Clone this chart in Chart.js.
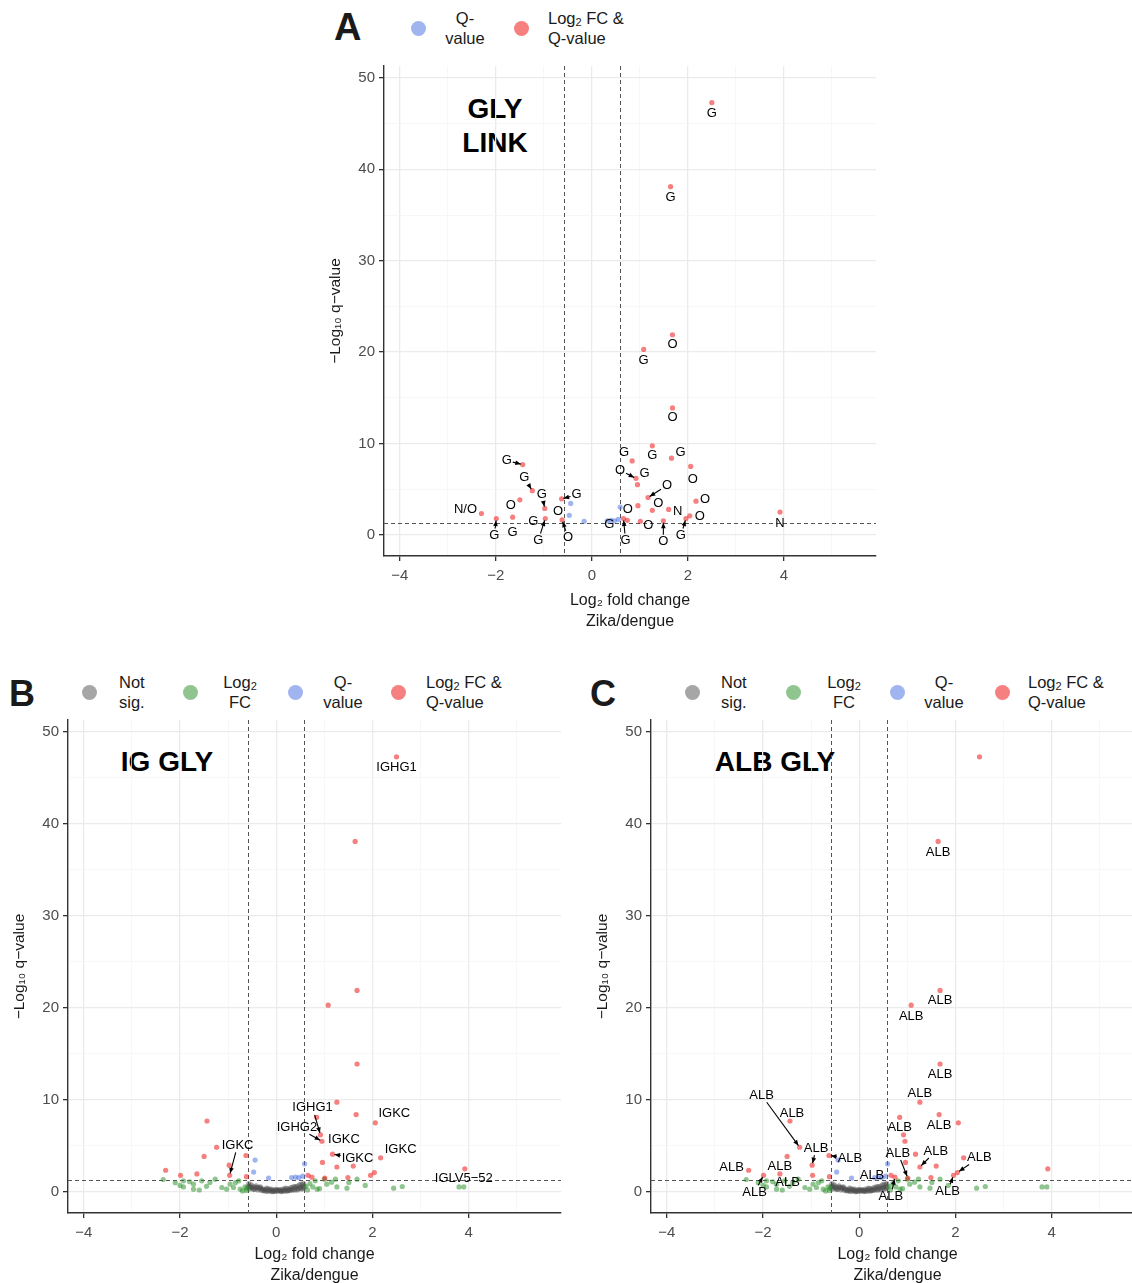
<!DOCTYPE html>
<html>
<head>
<meta charset="utf-8">
<script src="https://cdn.jsdelivr.net/npm/chart.js@4.4.1/dist/chart.umd.min.js"></script>
<style>
body { margin:0; width:1132px; height:1283px; overflow:hidden; background:#fff; position:relative;
       font-family:"Liberation Sans", Arial, sans-serif; color:#1a1a1a; }
canvas { position:absolute; }
.tag { position:absolute; font-weight:bold; line-height:1; }
.ttl { position:absolute; font-weight:bold; font-size:28px; line-height:34px; text-align:center; color:#000; }
.dot { position:absolute; width:15px; height:15px; border-radius:50%; margin:-7.5px 0 0 -7.5px; }
.lab { position:absolute; font-size:16.5px; line-height:20px; white-space:nowrap; }
.lab sub { font-size:11px; vertical-align:-2px; line-height:0; }
</style>
</head>
<body>

<div class="tag" style="left:334px;top:8px;font-size:38px">A</div>
<div class="tag" style="left:9px;top:676px;font-size:36px">B</div>
<div class="tag" style="left:590px;top:676px;font-size:36px">C</div>

<div class="ttl" style="left:420px;top:92px;width:150px">GLY<br>LINK</div>
<div class="ttl" style="left:87px;top:745px;width:160px">IG GLY</div>
<div class="ttl" style="left:685px;top:745px;width:180px">ALB GLY</div>

<canvas id="chartA" width="560" height="575" style="left:320px;top:61px"></canvas>
<canvas id="chartB" width="561" height="575" style="left:4px;top:715px"></canvas>
<canvas id="chartC" width="561" height="575" style="left:587px;top:715px"></canvas>

<div id="legends"></div>

<script>
// ---- data: log2 fold change (Zika/dengue) and -log10 q-value ----
// significant on both fold change and q-value
const redX = [2.50, 1.64, 1.68, 1.08, 1.68, 1.26, 0.84, 1.66, 2.06, 0.92, 0.95, 1.17, 0.96, 1.26, 1.60, 2.17, 2.04, 1.96,
              0.66, 0.74, 1.01, 1.49, 3.92, -1.44, -1.24, -1.50, -0.98, -0.97, -1.65, -1.99, -2.30, -0.63, -0.62];
const redY = [47.3, 38.1, 21.9, 20.3, 13.9, 9.75, 8.1, 8.4, 7.5, 6.2, 5.5, 4.1, 3.2, 2.7, 2.8, 3.7, 2.1, 1.8,
              1.8, 1.6, 1.5, 1.55, 2.5, 7.7, 4.85, 3.85, 2.9, 1.8, 1.95, 1.8, 2.35, 3.95, 1.65];
// q-value only
const blueX = [-0.44, -0.47, -0.16, 0.32, 0.40, 0.47, 0.59, 0.55];
const blueY = [3.45, 2.15, 1.5, 1.55, 1.6, 1.55, 3.05, 1.7];
// fold change only
const greenX = [-2.35, -1.93, -1.93, -1.72, -1.72, -1.55, -1.38, -1.27, -1.13, -1.03, -0.96, -0.89, -0.78, -0.75, -0.65, -0.61,
                -2.10, -0.70, 0.81, 0.76, 0.85, 1.05, 1.00, 1.23, 1.26, 1.47, 1.51, 1.68, 2.44, 2.62, 3.80, 3.90, 0.65, 0.70, 1.85,
                -1.80, -1.45, -0.85, -0.62, 0.62, 0.90, 1.15, -2.00, -1.60];
const greenY = [1.34, 1.2, 0.54, 0.83, 0.29, 1.2, 1.02, 1.38, 0.47, 0.29, 0.83, 0.47, 1.2, 0.29, 0.54, 0.4,
                1.0, 0.1, 1.2, 0.54, 0.29, 0.83, 1.38, 1.38, 0.54, 0.4, 1.02, 1.38, 0.4, 0.58, 0.54, 0.54, 0.2, 0.9, 0.7,
                1.1, 0.6, 1.0, 0.15, 0.6, 0.35, 1.05, 0.7, 0.2];
// not significant
const greyX = [-0.57, -0.55, -0.52, -0.50, -0.48, -0.45, -0.42, -0.40, -0.38, -0.35, -0.33, -0.30, -0.28, -0.25, -0.22, -0.20,
               -0.18, -0.15, -0.12, -0.10, -0.08, -0.05, -0.02, 0.00, 0.03, 0.05, 0.08, 0.10, 0.13, 0.15, 0.18, 0.20, 0.23,
               0.25, 0.28, 0.30, 0.33, 0.35, 0.38, 0.40, 0.43, 0.45, 0.48, 0.50, 0.53, 0.55, 0.57,
               -0.56, -0.53, -0.47, -0.43, -0.36, -0.31, -0.26, -0.21, -0.16, -0.11, -0.06, -0.01, 0.04, 0.09, 0.14,
               0.19, 0.24, 0.29, 0.34, 0.39, 0.44, 0.49, 0.52, 0.56, -0.58, 0.58];
const greyY = [0.9, 0.6, 0.75, 0.4, 0.55, 0.3, 0.65, 0.45, 0.2, 0.35, 0.55, 0.15, 0.3, 0.1, 0.25, 0.4,
               0.05, 0.2, 0.1, 0.3, 0.02, 0.15, 0.05, 0.2, 0.08, 0.25, 0.12, 0.03, 0.3, 0.15, 0.22, 0.08, 0.35,
               0.18, 0.28, 0.45, 0.3, 0.55, 0.2, 0.4, 0.6, 0.35, 0.75, 0.5, 0.3, 0.65, 0.9,
               0.3, 0.5, 0.25, 0.5, 0.5, 0.35, 0.2, 0.12, 0.32, 0.18, 0.08, 0.28, 0.14, 0.2, 0.06,
               0.4, 0.1, 0.15, 0.2, 0.58, 0.2, 0.4, 0.85, 0.4, 0.6, 0.55];

const fcCut = 0.585;   // log2(1.5)
const qCut = 1.3;      // -log10(0.05)
const xTicks = [-4, -2, 0, 2, 4];
const yTicks = [0, 10, 20, 30, 40, 50];

// point labels: [red point index, text, dx, dy, arrow]
const labelsA = [
  [0,'G',0,11,0],[1,'G',0,11,0],[2,'O',0,10,0],[3,'G',0,11,0],[4,'O',0,10,0],[5,'G',0,10,0],
  [6,'G',-8,-9,0],[7,'G',9,-6,0],[8,'O',2,13,0],[9,'O',-16,-8,1],[10,'G',7,-11,0],[11,'O',19,-12,1],
  [12,'O',-10,4,0],[13,'O',6,-7,0],[14,'N',9,2,0],[15,'O',9,-2,0],[16,'O',10,1,0],[17,'G',-5,17,1],
  [18,'G',2,22,1],[19,'G',-18,4,0],[20,'O',8,4,0],[21,'O',0,21,1],[22,'N',0,11,0],[23,'G',-16,-4,1],
  [24,'G',-8,-13,1],[25,'O',-9,6,0],[26,'G',-3,-14,1],[27,'G',-12,3,0],[27,'G',-7,22,1],[28,'G',0,15,0],
  [29,'G',-2,17,1],[30,'N/O',-16,-4,0],[31,'G',15,-4,1],[32,'O',6,18,1],[32,'O',-4,-8,0]
];
const labelsB = [
  [0,'IGHG1',0,11,0],[9,'IGHG1',-8,-27,1],[10,'IGHG2',-25,-14,1],[10,'IGKC',22,-2,0],[11,'IGKC',25,4,1],
  [8,'IGKC',19,-9,0],[15,'IGKC',20,-8,0],[22,'IGLV5\u221252',-1,10,0],[27,'IGKC',8,-30,1]
];
const labelsC = [
  [1,'ALB',0,11,0],[2,'ALB',0,10,0],[3,'ALB',0,11,0],[4,'ALB',0,10,0],[5,'ALB',0,-9,0],[7,'ALB',0,11,0],
  [6,'ALB',0,10,0],[20,'ALB',-10,-25,1],[13,'ALB',16,-16,1],[16,'ALB',22,-15,1],[17,'ALB',-6,16,1],
  [19,'ALB',-4,19,1],[18,'ALB',-19,0,0],[31,'ALB',21,3,1],[26,'ALB',4,-17,1],[24,'ALB',-38,-52,1],
  [23,'ALB',2,-8,0],[30,'ALB',-17,-3,0],[28,'ALB',0,-7,0],[29,'ALB',-9,17,1],[27,'ALB',-25,7,0]
];

const COL = {
  grey: 'rgba(77,77,77,0.5)', green: 'rgba(34,139,34,0.5)',
  blue: 'rgba(65,105,225,0.5)', red: 'rgba(238,0,0,0.5)'
};
const FONT = '"Liberation Sans", Arial, sans-serif';

function pts(xs, ys) { return xs.map((x, i) => ({ x: x, y: ys[i] })); }

// dashed cut-off lines
const cutoffPlugin = {
  id: 'cutoffs',
  beforeDatasetsDraw(chart) {
    const { ctx, chartArea: a, scales: { x, y } } = chart;
    ctx.save();
    ctx.strokeStyle = '#555';
    ctx.lineWidth = 1;
    ctx.setLineDash([4, 3]);
    [-fcCut, fcCut].forEach(v => {
      const px = Math.round(x.getPixelForValue(v)) + 0.5;
      ctx.beginPath(); ctx.moveTo(px, a.top); ctx.lineTo(px, a.bottom); ctx.stroke();
    });
    const py = Math.round(y.getPixelForValue(qCut)) + 0.5;
    ctx.beginPath(); ctx.moveTo(a.left, py); ctx.lineTo(a.right, py); ctx.stroke();
    ctx.restore();
  }
};

// text labels with optional arrows, like ggrepel
const labelPlugin = {
  id: 'pointLabels',
  afterDatasetsDraw(chart, args, opts) {
    const { ctx, scales: { x, y } } = chart;
    ctx.save();
    ctx.font = '13px ' + FONT;
    ctx.textAlign = 'center';
    ctx.textBaseline = 'middle';
    ctx.fillStyle = '#000';
    ctx.strokeStyle = '#000';
    ctx.lineWidth = 1.1;
    (opts.items || []).forEach(([i, t, dx, dy, arrow]) => {
      const px = x.getPixelForValue(redX[i]), py = y.getPixelForValue(redY[i]);
      const lx = px + dx, ly = py + dy;
      ctx.fillText(t, lx, ly);
      if (!arrow) return;
      const hw = ctx.measureText(t).width / 2 + 1, hh = 7;
      const vx = px - lx, vy = py - ly, len = Math.hypot(vx, vy);
      const s = Math.min(vx ? hw / Math.abs(vx) : 99, vy ? hh / Math.abs(vy) : 99);
      const x1 = lx + vx * s, y1 = ly + vy * s;
      const x2 = px - vx / len * 2, y2 = py - vy / len * 2;
      const ang = Math.atan2(y2 - y1, x2 - x1), h = 6;
      ctx.beginPath(); ctx.moveTo(x1, y1); ctx.lineTo(x2, y2); ctx.stroke();
      ctx.beginPath();
      ctx.moveTo(x2, y2);
      ctx.lineTo(x2 - h * Math.cos(ang - 0.4), y2 - h * Math.sin(ang - 0.4));
      ctx.lineTo(x2 - h * Math.cos(ang + 0.4), y2 - h * Math.sin(ang + 0.4));
      ctx.closePath(); ctx.fill();
    });
    ctx.restore();
  }
};

function gridCol(major) { return c => (c.tick && major.includes(c.tick.value)) ? '#ebebeb' : '#f4f4f4'; }
function gridW(major) { return c => (c.tick && major.includes(c.tick.value)) ? 1.3 : 0.7; }
function tickCol(major) { return c => (c.tick && major.includes(c.tick.value)) ? '#333' : 'rgba(0,0,0,0)'; }

function makeVolcano(id, showAll, items, xAxisHeight) {
  const datasets = [];
  if (showAll) {
    datasets.push({ label: 'Not sig.', data: pts(greyX, greyY), backgroundColor: COL.grey, order: 4 });
    datasets.push({ label: 'Log2 FC', data: pts(greenX, greenY), backgroundColor: COL.green, order: 3 });
  }
  datasets.push({ label: 'Q-value', data: pts(blueX, blueY), backgroundColor: COL.blue, order: 2 });
  datasets.push({ label: 'Log2 FC & Q-value', data: pts(redX, redY), backgroundColor: COL.red, order: 1 });
  datasets.forEach(d => { d.pointRadius = 2.6; d.borderWidth = 0; });

  return new Chart(document.getElementById(id), {
    type: 'scatter',
    data: { datasets: datasets },
    plugins: [cutoffPlugin, labelPlugin],
    options: {
      responsive: false,
      animation: false,
      layout: { padding: { top: 5, right: 0, left: 0, bottom: 0 } },
      plugins: { legend: { display: false }, tooltip: { enabled: false }, pointLabels: { items: items } },
      scales: {
        x: {
          type: 'linear', min: -4.33, max: 5.92,
          afterFit: s => { s.height = xAxisHeight; s.paddingLeft = 0; s.paddingRight = 0; },
          border: { display: true, color: '#333', width: 1.4 },
          grid: { color: gridCol(xTicks), lineWidth: gridW(xTicks), tickColor: tickCol(xTicks), tickLength: 5 },
          ticks: {
            stepSize: 1, includeBounds: false, autoSkip: false, maxRotation: 0, padding: 6,
            color: '#4d4d4d', font: { family: FONT, size: 15 },
            callback: v => xTicks.includes(v) ? (v < 0 ? '\u2212' + Math.abs(v) : String(v)) : ''
          },
          title: { display: true, text: ['Log\u2082 fold change', 'Zika/dengue'], color: '#1a1a1a',
                   font: { family: FONT, size: 16, lineHeight: 1.3 }, padding: { top: 7 } }
        },
        y: {
          type: 'linear', min: -2.3, max: 51.3,
          afterFit: s => { s.width = 64; s.paddingTop = 0; s.paddingBottom = 0; },
          border: { display: true, color: '#333', width: 1.4 },
          grid: { color: gridCol(yTicks), lineWidth: gridW(yTicks), tickColor: tickCol(yTicks), tickLength: 5 },
          ticks: {
            stepSize: 5, includeBounds: false, autoSkip: false, padding: 4,
            color: '#4d4d4d', font: { family: FONT, size: 15 },
            callback: v => yTicks.includes(v) ? String(v) : ''
          },
          title: { display: true, text: '\u2212Log\u2081\u2080 q\u2212value', color: '#1a1a1a',
                   font: { family: FONT, size: 15.5 }, padding: { top: 6, bottom: 0 } }
        }
      }
    }
  });
}

makeVolcano('chartA', false, labelsA, 80);
makeVolcano('chartB', true, labelsB, 77);
makeVolcano('chartC', true, labelsC, 77);

// ---- legends ----
const legendItems = [
  // [dot x, dot y, colour, label html, text left, align, width]
  [418, 28, COL.blue, 'Q-<br>value', 443, 'center', 44],
  [521, 28, COL.red, 'Log<sub>2</sub> FC &amp;<br>Q-value', 548, 'left', 90],
  [89, 692, COL.grey, 'Not<br>sig.', 119, 'left', 40],
  [190, 692, COL.green, 'Log<sub>2</sub><br>FC', 220, 'center', 40],
  [295, 692, COL.blue, 'Q-<br>value', 321, 'center', 44],
  [398, 692, COL.red, 'Log<sub>2</sub> FC &amp;<br>Q-value', 426, 'left', 90],
  [692, 692, COL.grey, 'Not<br>sig.', 721, 'left', 40],
  [793, 692, COL.green, 'Log<sub>2</sub><br>FC', 824, 'center', 40],
  [897, 692, COL.blue, 'Q-<br>value', 922, 'center', 44],
  [1002, 692, COL.red, 'Log<sub>2</sub> FC &amp;<br>Q-value', 1028, 'left', 90]
];
const lg = document.getElementById('legends');
legendItems.forEach(([dx, dy, col, html, tx, align, w]) => {
  const d = document.createElement('div');
  d.className = 'dot';
  d.style.left = dx + 'px'; d.style.top = dy + 'px'; d.style.background = col;
  lg.appendChild(d);
  const t = document.createElement('div');
  t.className = 'lab';
  t.style.left = tx + 'px'; t.style.top = (dy - 20) + 'px';
  t.style.width = w + 'px'; t.style.textAlign = align;
  t.innerHTML = html;
  lg.appendChild(t);
});
</script>
</body>
</html>
